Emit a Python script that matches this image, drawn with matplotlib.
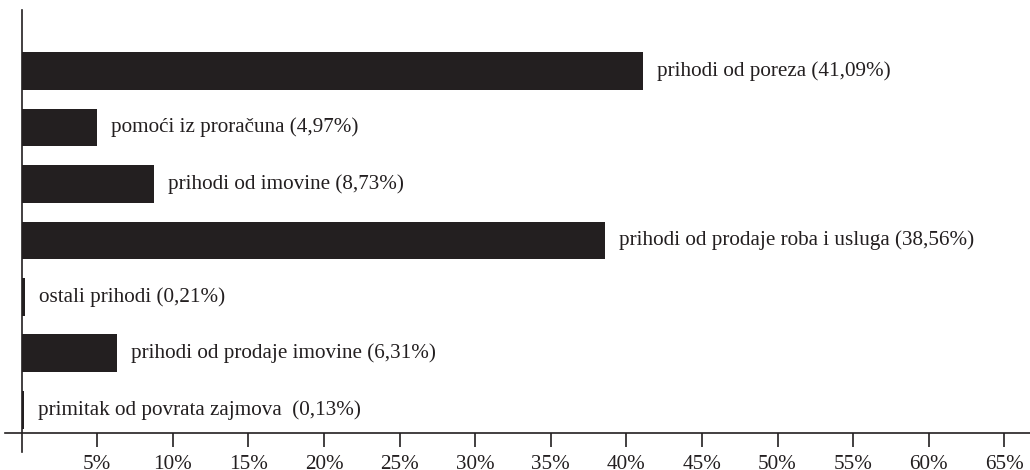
import matplotlib.pyplot as plt

plt.rcParams['font.family'] = ['Liberation Serif', 'DejaVu Serif']

kategorije = ['prihodi od poreza', 'pomoći iz proračuna', 'prihodi od imovine',
              'prihodi od prodaje roba i usluga', 'ostali prihodi',
              'prihodi od prodaje imovine', 'primitak od povrata zajmova ']
udjeli = [41.09, 4.97, 8.73, 38.56, 0.21, 6.31, 0.13]
oznake = ['41,09%', '4,97%', '8,73%', '38,56%', '0,21%', '6,31%', '0,13%']
ticks = [5, 10, 15, 20, 25, 30, 35, 40, 45, 50, 55, 60, 65]

boja = '#231f20'

fig = plt.figure(figsize=(10.3, 4.7), dpi=100)
ax = fig.add_axes([5 / 1030, 1 - 433 / 470, 1 - 5 / 1030, 423 / 470])

pozicije = list(range(len(kategorije)))
ax.barh(pozicije, udjeli, height=0.67, color=boja)

for y, v, k, o in zip(pozicije, udjeli, kategorije, oznake):
    ax.text(v + 0.95, y, f'{k} ({o})', va='center', ha='left',
            fontsize=15.2, color=boja)

ax.set_xlim(-1.1, 66.7)
ax.set_ylim(6.41, -1.08)

for s in ['top', 'right', 'left']:
    ax.spines[s].set_visible(False)
ax.spines['bottom'].set_color(boja)
ax.spines['bottom'].set_linewidth(1.2)

# os y ide malo ispod osi x
ax.axvline(0, ymin=-0.045, ymax=1, color=boja, lw=1.2, clip_on=False)

ax.set_yticks([])
ax.set_xticks(ticks)
ax.set_xticklabels([f'{t}%' for t in ticks], fontsize=15.2, color=boja)
ax.tick_params(axis='x', length=10, width=1.2, color=boja, pad=6)

fig.savefig('out.png', dpi=100)
